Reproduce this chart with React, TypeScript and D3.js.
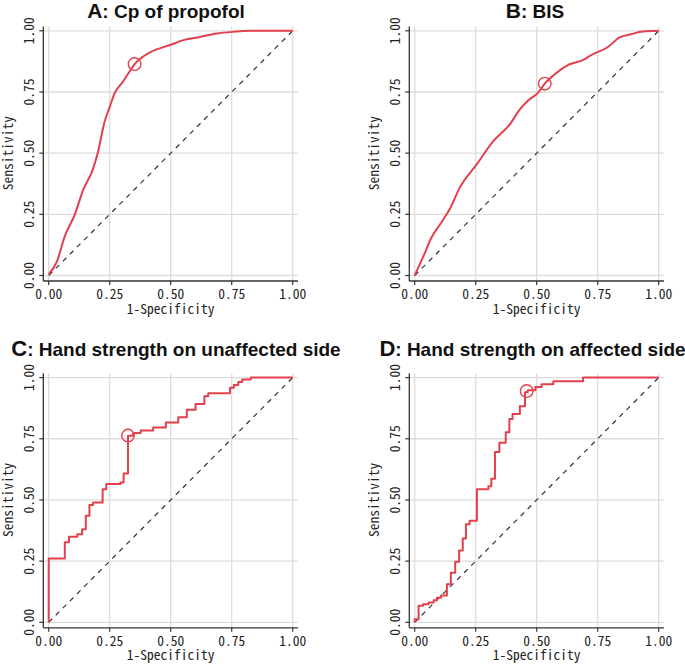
import React from "react";
import * as d3 from "d3";

// ---- Data (1-Specificity, Sensitivity) ----
const cpFpr = [0, 0.034, 0.065, 0.106, 0.141, 0.182, 0.202, 0.229, 0.25, 0.27, 0.304, 0.335, 0.352, 0.386, 0.415, 0.503, 0.552, 0.62, 0.689, 0.757, 0.824, 1];
const cpTpr = [0.005, 0.058, 0.158, 0.247, 0.349, 0.437, 0.505, 0.628, 0.689, 0.744, 0.792, 0.839, 0.864, 0.894, 0.912, 0.944, 0.962, 0.975, 0.989, 0.996, 1, 1];

const bisFpr = [0, 0.044, 0.064, 0.112, 0.146, 0.184, 0.254, 0.322, 0.39, 0.431, 0.466, 0.506, 0.533, 0.567, 0.622, 0.697, 0.717, 0.792, 0.84, 0.887, 0.935, 1];
const bisTpr = [0, 0.098, 0.146, 0.221, 0.276, 0.358, 0.454, 0.549, 0.618, 0.679, 0.716, 0.747, 0.784, 0.816, 0.857, 0.884, 0.897, 0.934, 0.973, 0.986, 0.997, 1];

const unaffFpr = [0, 0, 0.066, 0.083, 0.117, 0.137, 0.152, 0.167, 0.182, 0.221, 0.236, 0.294, 0.307, 0.325, 0.346, 0.377, 0.428, 0.48, 0.531, 0.566, 0.602, 0.638, 0.654, 0.743, 0.759, 0.777, 0.793, 0.828, 1];
const unaffTpr = [0, 0.261, 0.327, 0.35, 0.36, 0.38, 0.435, 0.479, 0.49, 0.544, 0.565, 0.571, 0.608, 0.762, 0.774, 0.784, 0.796, 0.816, 0.838, 0.869, 0.892, 0.924, 0.936, 0.959, 0.97, 0.982, 0.992, 1, 1];

const affFpr = [0, 0, 0.016, 0.034, 0.057, 0.078, 0.091, 0.108, 0.132, 0.148, 0.166, 0.182, 0.197, 0.21, 0.225, 0.255, 0.302, 0.314, 0.329, 0.347, 0.373, 0.388, 0.401, 0.431, 0.452, 0.463, 0.495, 0.52, 0.568, 0.69, 1];
const affTpr = [0, 0.012, 0.068, 0.074, 0.081, 0.09, 0.1, 0.11, 0.155, 0.202, 0.247, 0.293, 0.342, 0.401, 0.415, 0.544, 0.556, 0.587, 0.696, 0.734, 0.777, 0.831, 0.851, 0.883, 0.94, 0.948, 0.962, 0.973, 0.985, 1, 1];

// Optimal cut-off points [fpr, tpr]
const cutA = [0.352, 0.864];
const cutB = [0.533, 0.784];
const cutC = [0.325, 0.763];
const cutD = [0.459, 0.945];

const letters = ["A", "B", "C", "D"];
const titles = ["Cp of propofol", "BIS", "Hand strength on unaffected side", "Hand strength on affected side"];
const tickValues = [0, 0.25, 0.5, 0.75, 1];
const tickLabels = ["0.00", "0.25", "0.50", "0.75", "1.00"];
const xTitle = "1-Specificity";
const yTitle = "Sensitivity";

const RED = "#e4404c";
const GRID = "#dcdcdc";
const AXIS = "#333333";
const MONO = "'Noto Sans Mono CJK JP', 'DejaVu Sans Mono', monospace";
const SANS = "'Liberation Sans', Arial, sans-serif";
const FS = 13.5;

type Panel = {
  fpr: number[];
  tpr: number[];
  cut: number[];
  step: boolean;
  ox: number;
  oy: number;
  titleY: number;
  titleX: number;
  letterSize: number;
  titleSize: number;
};

const panels: Panel[] = [
  { fpr: cpFpr, tpr: cpTpr, cut: cutA, step: false, ox: 0, oy: 0, titleY: 17.5, titleX: 166, letterSize: 21, titleSize: 19 },
  { fpr: bisFpr, tpr: bisTpr, cut: cutB, step: false, ox: 366, oy: 0, titleY: 17.5, titleX: 169, letterSize: 21, titleSize: 19 },
  { fpr: unaffFpr, tpr: unaffTpr, cut: cutC, step: true, ox: 0, oy: 346.8, titleY: 8.8, titleX: 176, letterSize: 22, titleSize: 19 },
  { fpr: affFpr, tpr: affTpr, cut: cutD, step: true, ox: 366, oy: 346.8, titleY: 8.8, titleX: 166.5, letterSize: 22, titleSize: 19 },
];

const x = d3.scaleLinear().domain([0, 1]).range([48.7, 292.7]);
const y = d3.scaleLinear().domain([0, 1]).range([275.5, 30.8]);
const AX_L = 43.3;
const AX_R = 298;
const AX_T = 26.5;
const AX_B = 281;

function MonoText(props: { x: number; y: number; text: string; rotate?: boolean }) {
  const len = props.text.length * 0.5 * FS;
  return (
    <text
      x={props.rotate ? 0 : props.x}
      y={props.rotate ? 0 : props.y}
      transform={props.rotate ? `translate(${props.x},${props.y}) rotate(-90)` : undefined}
      textAnchor="middle"
      fontFamily={MONO}
      fontSize={FS}
      fill="#222"
      textLength={len}
      lengthAdjust="spacingAndGlyphs"
    >
      {props.text}
    </text>
  );
}

function RocPanel({ p, i }: { p: Panel; i: number }) {
  const pts: [number, number][] = p.fpr.map((f, k) => [f, p.tpr[k]]);
  const line = d3
    .line<[number, number]>()
    .x((d) => x(d[0]))
    .y((d) => y(d[1]))
    .curve(p.step ? d3.curveStepAfter : d3.curveMonotoneX);
  return (
    <g transform={`translate(${p.ox},${p.oy})`}>
      {/* grid */}
      {tickValues.map((t) => (
        <line key={"gx" + t} x1={x(t)} x2={x(t)} y1={AX_T} y2={AX_B} stroke={GRID} strokeWidth={1.3} />
      ))}
      {tickValues.map((t) => (
        <line key={"gy" + t} x1={AX_L} x2={AX_R} y1={y(t)} y2={y(t)} stroke={GRID} strokeWidth={1.3} />
      ))}
      {/* reference diagonal */}
      <line x1={x(0)} y1={y(0)} x2={x(1)} y2={y(1)} stroke="#333" strokeWidth={1.2} strokeDasharray="5,5" />
      {/* ROC curve */}
      <path d={line(pts) || ""} fill="none" stroke={RED} strokeWidth={2} strokeLinejoin="round" />
      <circle cx={x(p.cut[0])} cy={y(p.cut[1])} r={6.3} fill="none" stroke={RED} strokeWidth={1.4} />
      {/* axes */}
      <line x1={AX_L} x2={AX_L} y1={AX_T} y2={AX_B} stroke={AXIS} strokeWidth={1.3} />
      <line x1={AX_L} x2={AX_R} y1={AX_B} y2={AX_B} stroke={AXIS} strokeWidth={1.3} />
      {tickValues.map((t) => (
        <line key={"tx" + t} x1={x(t)} x2={x(t)} y1={AX_B} y2={AX_B + 4} stroke={AXIS} strokeWidth={1.2} />
      ))}
      {tickValues.map((t) => (
        <line key={"ty" + t} x1={AX_L - 4} x2={AX_L} y1={y(t)} y2={y(t)} stroke={AXIS} strokeWidth={1.2} />
      ))}
      {tickValues.map((t, k) => (
        <MonoText key={"lx" + t} x={x(t)} y={299.3} text={tickLabels[k]} />
      ))}
      {tickValues.map((t, k) => (
        <MonoText key={"ly" + t} x={33.5} y={y(t)} text={tickLabels[k]} rotate />
      ))}
      <MonoText x={(x(0) + x(1)) / 2} y={313.5} text={xTitle} />
      <MonoText x={13.2} y={153} text={yTitle} rotate />
      {/* title */}
      <text x={p.titleX} y={p.titleY} textAnchor="middle" fontFamily={SANS} fontWeight="bold" fill="#111">
        <tspan fontSize={p.letterSize}>{letters[i]}</tspan>
        <tspan fontSize={p.titleSize}>{": " + titles[i]}</tspan>
      </text>
    </g>
  );
}

export default function App() {
  return (
    <svg width={685} height={666} style={{ position: "absolute", left: 0, top: 0, background: "#fff" }}>
      <rect width={685} height={666} fill="#fff" />
      {panels.map((p, i) => (
        <RocPanel key={i} p={p} i={i} />
      ))}
    </svg>
  );
}
